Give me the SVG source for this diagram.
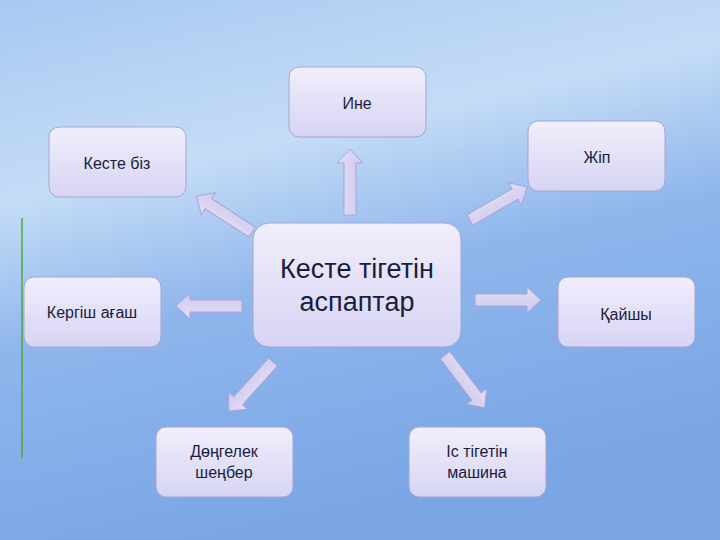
<svg xmlns="http://www.w3.org/2000/svg" width="720" height="540" viewBox="0 0 720 540">
<defs>
<linearGradient id="bg" x1="0" y1="0" x2="0.3" y2="1">
<stop offset="0" stop-color="#a9c8f2"/><stop offset="0.35" stop-color="#c4dcf6"/><stop offset="0.6" stop-color="#8fb6ec"/><stop offset="1" stop-color="#7aa6e6"/>
</linearGradient>
<linearGradient id="nd" x1="0" y1="0" x2="0" y2="1">
<stop offset="0" stop-color="#f1eefc"/><stop offset="1" stop-color="#d6d4f4"/>
</linearGradient>
<linearGradient id="ar" x1="0" y1="0" x2="0" y2="1">
<stop offset="0" stop-color="#e4def6"/><stop offset="1" stop-color="#cfc9ee"/>
</linearGradient>
<path id="arrow" d="M0,-6 L52,-6 L52,-13 L66,0 L52,13 L52,6 L0,6 Z"/>
</defs>
<style>
.node rect{fill:url(#nd);stroke:#a7a4d0;stroke-width:1}
.node text{font-family:"Liberation Sans",Arial,sans-serif;font-size:16px;fill:#1c1c3c;text-anchor:middle}
#connectors use{fill:url(#ar);stroke:#a9a3d8;stroke-width:1}
</style>
<rect width="720" height="540" fill="url(#bg)"/>
<line x1="22" y1="218" x2="22" y2="458" stroke="#4caa3c" stroke-width="1.5"/>
<g id="connectors">
<use href="#arrow" transform="translate(350,215) rotate(-90)"/>
<use href="#arrow" transform="translate(252,232) rotate(213)"/>
<use href="#arrow" transform="translate(470,220) rotate(-30)"/>
<use href="#arrow" transform="translate(242,306) rotate(180)"/>
<use href="#arrow" transform="translate(475,300)"/>
<use href="#arrow" transform="translate(273,362) rotate(132)"/>
<use href="#arrow" transform="translate(445,355) rotate(53)"/>
</g>
<g id="n-ine" class="node"><rect x="289" y="67" width="137" height="70" rx="10"/><text x="357" y="109">Ине</text></g>
<g id="n-zhip" class="node"><rect x="528" y="121" width="137" height="70" rx="10"/><text x="597" y="163">Жіп</text></g>
<g id="n-kestebiz" class="node"><rect x="49" y="127" width="137" height="70" rx="10"/><text x="117" y="169">Кесте біз</text></g>
<g id="n-center" class="node"><rect x="253" y="223" width="208" height="124" rx="16"/><text x="357" y="278" style="font-size:27px">Кесте тігетін</text><text x="357" y="311" style="font-size:27px">аспаптар</text></g>
<g id="n-kergish" class="node"><rect x="24" y="277" width="137" height="70" rx="10"/><text x="92" y="318">Кергіш ағаш</text></g>
<g id="n-kaishy" class="node"><rect x="558" y="277" width="137" height="70" rx="10"/><text x="626" y="320">Қайшы</text></g>
<g id="n-dongelek" class="node"><rect x="156" y="427" width="137" height="70" rx="10"/><text x="224" y="457">Дөңгелек</text><text x="224" y="478">шеңбер</text></g>
<g id="n-is" class="node"><rect x="409" y="427" width="137" height="70" rx="10"/><text x="477" y="457">Іс тігетін</text><text x="477" y="478">машина</text></g>
</svg>
